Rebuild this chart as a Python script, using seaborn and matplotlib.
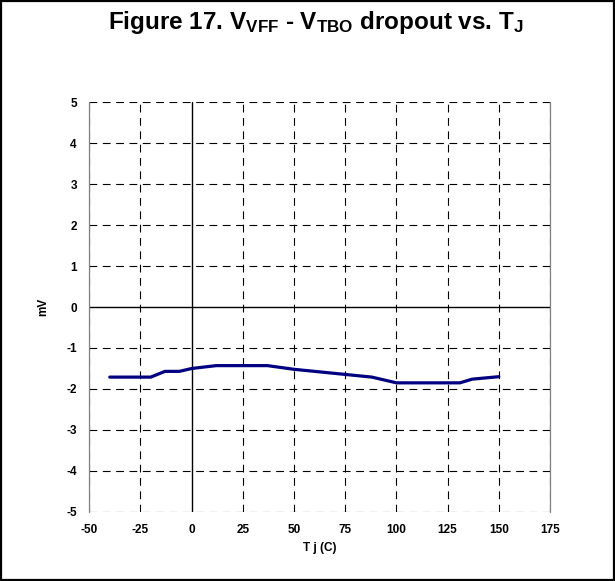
import matplotlib
matplotlib.use("Agg")
import matplotlib.pyplot as plt
from matplotlib.patches import Rectangle
import seaborn as sns
import pandas as pd

# Data
tj = [-40, -20, -13, -6, 0, 12, 37, 50, 88, 100, 131, 137, 150]
mv = [-1.71, -1.71, -1.57, -1.57, -1.50, -1.43, -1.43, -1.52, -1.71, -1.85, -1.85, -1.76, -1.70]
x_ticks = [-50, -25, 0, 25, 50, 75, 100, 125, 150, 175]
y_ticks = [-5, -4, -3, -2, -1, 0, 1, 2, 3, 4, 5]

sns.set_theme(style="white")
plt.rcParams['font.family'] = ['Liberation Sans', 'DejaVu Sans']
plt.rcParams['text.color'] = 'black'
plt.rcParams['axes.labelcolor'] = 'black'
plt.rcParams['xtick.color'] = 'black'
plt.rcParams['ytick.color'] = 'black'
plt.rcParams['mathtext.fontset'] = 'custom'
plt.rcParams['mathtext.rm'] = 'Liberation Sans:bold'
plt.rcParams['mathtext.it'] = 'Liberation Sans:bold'
plt.rcParams['mathtext.bf'] = 'Liberation Sans:bold'

df = pd.DataFrame({"Tj": tj, "mV": mv})

fig = plt.figure(figsize=(6.15, 5.81), dpi=100)
ax = fig.add_axes([0.1452, 0.1188, 0.7491, 0.7056])

sns.lineplot(data=df, x="Tj", y="mV", ax=ax, color="#000080", linewidth=2.3)

ax.set_xlim(-50, 175)
ax.set_ylim(-5, 5)
ax.set_xticks(x_ticks)
ax.set_yticks(y_ticks)
ax.set_xticklabels([str(v) for v in x_ticks], fontsize=8.5, fontweight='bold')
ax.set_yticklabels([str(v) for v in y_ticks], fontsize=8.5, fontweight='bold')
ax.tick_params(axis='both', length=0, pad=9)

for v in x_ticks:
    if v != 0:
        ax.axvline(v, color='black', lw=0.8, ls=(0, (7, 5)), zorder=0.5)
for v in y_ticks:
    if v != 0:
        ax.axhline(v, color='black', lw=0.8, ls=(0, (7, 5)), zorder=0.5)
ax.axvline(0, color='black', lw=1.0, zorder=1)
ax.axhline(0, color='black', lw=1.0, zorder=1)

for s in ['top', 'bottom']:
    ax.spines[s].set_visible(False)
for s in ['left', 'right']:
    ax.spines[s].set_color('#808080')
    ax.spines[s].set_linewidth(0.9)

ax.set_xlabel("T j (C)", fontsize=8.5, fontweight='bold', labelpad=4)
ax.set_ylabel("mV", fontsize=8.5, fontweight='bold', labelpad=12)

fig.text(0.514, 0.962, r"Figure 17. V$_{\mathrm{VFF}}$ - V$_{\mathrm{TBO}}$ dropout vs. T$_{\mathrm{J}}$",
         ha='center', va='center', fontsize=17.5, fontweight='bold', color='black')

fig.add_artist(Rectangle((0.002, 0.002), 0.996, 0.996, transform=fig.transFigure,
                         fill=False, edgecolor='black', lw=1.6))

fig.savefig("out.png", dpi=100)
